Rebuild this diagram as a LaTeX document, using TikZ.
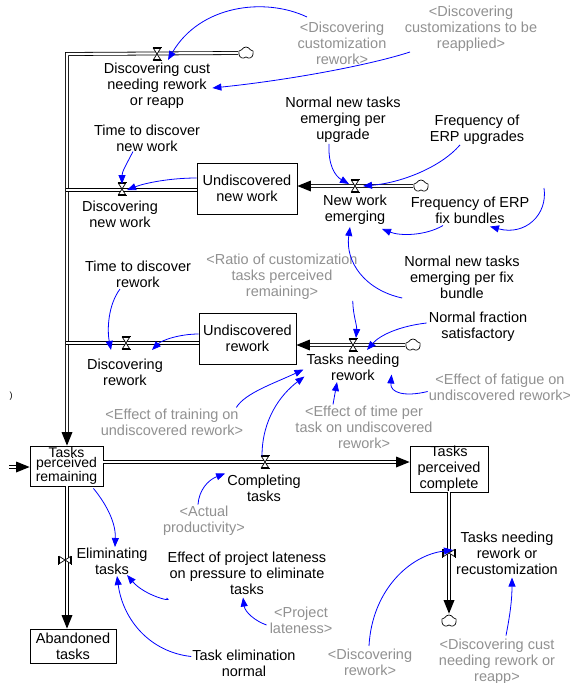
\documentclass[tikz,border=0pt]{standalone}
\usepackage{fontspec}
\setmainfont{Liberation Sans}
\usetikzlibrary{arrows.meta,shapes.symbols,calc}
\definecolor{shadowtxt}{RGB}{145,145,145}
\definecolor{linkblue}{RGB}{0,0,255}

\tikzset{
  lbl/.style={align=center, inner sep=0pt, font=\fontsize{14.5}{16}\selectfont},
  ghost/.style={lbl, text=shadowtxt},
  stock/.style={draw, line width=0.8pt, inner sep=0pt, align=center,
                font=\fontsize{14.5}{16}\selectfont},
  pipe/.style={draw=black, double=white, double distance=2.2pt, line width=0.8pt},
  pipeshort/.style={pipe, shorten >=12pt},
  conn/.style={draw=linkblue, line width=0.8pt, -{Triangle[length=9pt,width=7pt,fill=linkblue]}},
  sink/.style={cloud, cloud puffs=5, cloud puff arc=130, draw, fill=white, minimum width=15pt,
               minimum height=12pt, inner sep=0pt, line width=0.7pt, aspect=1.3},
  valve/.pic={
    \draw[line width=0.7pt] (-4.5,-6.5) -- (4.5,-6.5) (-4.5,6.5) -- (4.5,6.5);
    \filldraw[fill=white, line width=0.7pt] (-3.5,-5.5) -- (3.5,-5.5) -- (-3.5,5.5) -- (3.5,5.5) -- cycle;
  }
}
% solid arrowhead at the end of a pipe running from #1 to #2
\newcommand\pipehead[2]{%
  \coordinate (hb) at ($(#2)!13.5pt!(#1)$);
  \fill (#2) -- ($(hb)!5.5pt!90:(#2)$) -- ($(hb)!5.5pt!-90:(#2)$) -- cycle;}

\begin{document}
\begin{tikzpicture}[x=1pt,y=-1pt]
\useasboundingbox[fill=white] (0,0) rectangle (570,683);

% ---------- stocks ----------
\node[stock, minimum width=100pt, minimum height=51pt] (unw) at (247,188.5) {Undiscovered\\new work};
\node[stock, minimum width=97pt, minimum height=51pt] (ur) at (247.5,338.5) {Undiscovered\\rework};
\node[stock, minimum width=73pt, minimum height=40pt,
      font=\fontsize{14}{10.5}\selectfont] (tpr) at (66.5,466) {Tasks\\perceived\\remaining};
\node[stock, minimum width=78pt, minimum height=46pt] (tpc) at (449,469) {Tasks\\perceived\\complete};
\node[stock, minimum width=86pt, minimum height=34pt] (ab) at (73,646) {Abandoned\\tasks};

% ---------- sources and sinks ----------
\node[sink] (c1) at (246,53) {};
\node[sink] (c2) at (421,186) {};
\node[sink] (c3) at (413,345) {};
\node[sink] (c4) at (449,621) {};

% ---------- valve positions and pipe ends ----------
\coordinate (v1) at (157,54);
\coordinate (v2) at (122,189);
\coordinate (v3) at (355,186);
\coordinate (v4) at (126,343);
\coordinate (v5) at (353,345);
\coordinate (v6) at (265,462);
\coordinate (v7) at (65,560);
\coordinate (v8) at (449,553);
\coordinate (corner) at (67,54);
\coordinate (j2) at (65.5,190);
\coordinate (j4) at (65.5,343);
\coordinate (src) at (9,467);
\coordinate (fixsrc) at (544,188);
\coordinate (e1) at (tpr.north -| corner);
\coordinate (e2) at (unw.east |- c2);
\coordinate (e3) at (ur.east |- c3);
\coordinate (s4) at (tpr.east |- v6);
\coordinate (e4) at (tpc.west |- v6);
\coordinate (s5) at (tpr.south -| corner);
\coordinate (e5) at (ab.north -| corner);
\coordinate (e6) at ($(c4.north)+(0,-1)$);
\coordinate (e7) at (tpr.west |- src);

% ---------- pipes ----------
\draw[pipeshort] (c1.west) -- (corner) -- (e1);
\draw[pipe] (unw.west |- j2) -- (j2);
\draw[pipe] (ur.west |- j4) -- (j4);
\draw[pipeshort] (c2.west) -- (e2);
\draw[pipeshort] (c3.west) -- (e3);
\draw[pipeshort] (s4) -- (e4);
\draw[pipeshort] (s5) -- (e5);
\draw[pipeshort] (tpc.south) -- (e6);
\draw[pipeshort] (src) -- (e7);
\pipehead{corner}{e1}
\pipehead{c2}{e2}
\pipehead{c3}{e3}
\pipehead{s4}{e4}
\pipehead{s5}{e5}
\pipehead{tpc.south}{e6}
\pipehead{src}{e7}

% ---------- valves ----------
\foreach \v in {v1,v2,v3,v4,v5,v6} { \pic at (\v) {valve}; }
\pic[rotate=90] at (v7) {valve};
\pic[rotate=90] at (v8) {valve};

% ---------- flow names and auxiliaries ----------
\node[lbl] (dcust) at (157,86) {Discovering cust\\needing rework\\or reapp};
\node[lbl] (tdnw) at (147,138) {Time to discover\\new work};
\node[lbl] (dnw) at (120,214.5) {Discovering\\new work};
\node[lbl] (nnt) at (343,120) {Normal new tasks\\emerging per\\upgrade};
\node[lbl] (ferp) at (477,130) {Frequency of\\ERP upgrades};
\node[lbl] (nwe) at (355,210) {New work\\emerging};
\node[lbl] (ffix) at (470,210) {Frequency of ERP\\fix bundles};
\node[lbl] (nntfix) at (462,277) {Normal new tasks\\emerging per fix\\bundle};
\node[lbl] (tdr) at (138,274.5) {Time to discover\\rework};
\node[lbl] (dr) at (125,372) {Discovering\\rework};
\node[lbl] (tnr) at (353,367.5) {Tasks needing\\rework};
\node[lbl] (nfs) at (478,327) {Normal fraction\\satisfactory};
\node[lbl] (ct) at (264,488.5) {Completing\\tasks};
\node[lbl] (el) at (112,561.5) {Eliminating\\tasks};
\node[lbl] (epl) at (247,573) {Effect of project lateness\\on pressure to eliminate\\tasks};
\node[lbl] (ten) at (244,663.5) {Task elimination\\normal};
\node[lbl] (tnrr) at (507,553) {Tasks needing\\rework or\\recustomization};
\node[lbl, font=\fontsize{9}{9}\selectfont] (tick) at (11,396) {)};

% ---------- shadow variables ----------
\node[ghost] (gdcr) at (342,43) {<Discovering\\customization\\rework>};
\node[ghost] (gdctbr) at (471,29) {<Discovering\\customizations to be\\reapplied>};
\node[ghost] (gratio) at (282,277) {<Ratio of customization\\tasks perceived\\remaining>};
\node[ghost] (gtrain) at (172,422) {<Effect of training on\\undiscovered rework>};
\node[ghost] (gfat) at (500,387.5) {<Effect of fatigue on\\undiscovered rework>};
\node[ghost] (gtime) at (364,427) {<Effect of time per\\task on undiscovered\\rework>};
\node[ghost] (gap) at (204,520.5) {<Actual\\productivity>};
\node[ghost] (gpl) at (301,620) {<Project\\lateness>};
\node[ghost] (gdr) at (370,662.5) {<Discovering\\rework>};
\node[ghost] (gdcs) at (497,661.5) {<Discovering cust\\needing rework or\\reapp>};

% ---------- information links ----------
\draw[conn] ($(gdcr)+(-35,-26)$) .. controls (265,-3) and (200,5) .. ($(v1)+(11,6)$);
\draw[conn] ($(gdctbr)+(-61,23)$) .. controls (370,65) and (290,80) .. ($(dcust.east)+(2,2)$);
\draw[conn] ($(tdnw.south)+(-14,0)$) .. controls (126,165) and (122,172) .. ($(v2)+(0,-5)$);
\draw[conn] (unw.west |- 0,178) .. controls (170,178) and (145,183) .. ($(v2)+(5,1)$);
\draw[conn] ($(nnt.south)+(-14,1)$) .. controls (328,165) and (335,176) .. ($(v3)+(-6,-2)$);
\draw[conn] ($(ferp.south)+(-17,0)$) .. controls (440,168) and (400,183) .. ($(v3)+(8,0)$);
\draw[conn] (fixsrc) .. controls (548,215) and (525,236) .. ($(ffix.south)+(20,3)$);
\draw[conn] ($(ffix.south)+(-27,2)$) .. controls (425,236) and (400,236) .. ($(nwe.south east)+(-5,4)$);
\draw[conn] ($(nntfix.west)+(-2,21)$) .. controls (365,290) and (345,262) .. ($(nwe.south)+(-5,2)$);
\draw[conn] ($(gratio.south east)+(-5,1)$) .. controls (353,315) and (357,325) .. ($(v5)+(3,-7)$);
\draw[conn] ($(nfs.west)+(-2,-4)$) .. controls (400,326) and (380,335) .. ($(v5)+(14,5)$);
\draw[conn] ($(tdr.south)+(-18,1)$) .. controls (108,305) and (107,330) .. ($(v4)+(-15,7)$);
\draw[conn] (ur.west |- 0,334) .. controls (180,334) and (162,340) .. ($(v4)+(26,7)$);
\draw[conn] ($(gtrain.north east)+(-7,-1)$) .. controls (245,393) and (275,383) .. ($(tnr.west)+(-3,2)$);
\draw[conn] ($(v6)+(-3,-6)$) .. controls (262,420) and (280,395) .. ($(tnr.west)+(-2,9)$);
\draw[conn] ($(gtime.north)+(-31,-1)$) -- ($(tnr.south)+(-16,1)$);
\draw[conn] ($(gfat.west)+(-1,4)$) .. controls (405,397) and (390,393) .. ($(tnr.east)+(-8,7)$);
\draw[conn] ($(gap.north)+(-6,-1)$) .. controls (199,490) and (208,480) .. ($(ct.west)+(-2,-15)$);
\draw[conn] ($(tpr.south east)+(-10,2)$) .. controls (103,500) and (116,520) .. ($(el.north)+(3,-1)$);
\draw[conn] ($(epl.west)+(-1,25)$) .. controls (175,603) and (145,596) .. ($(el.south)+(15,0)$);
\draw[conn] ($(ten.west)+(-1,-7)$) .. controls (150,652) and (123,620) .. ($(el.south)+(5,1)$);
\draw[conn] ($(gpl.west)+(-3,5)$) .. controls (255,621) and (245,612) .. ($(epl.south)+(-4,3)$);
\draw[conn] ($(gdr.north)+(-1,-3)$) .. controls (372,590) and (410,555) .. ($(v8)+(4,-3)$);
\draw[conn] ($(gdcs.north)+(9,-3)$) .. controls (510,615) and (512,600) .. ($(tnrr.south)+(5,3)$);
\end{tikzpicture}
\end{document}
